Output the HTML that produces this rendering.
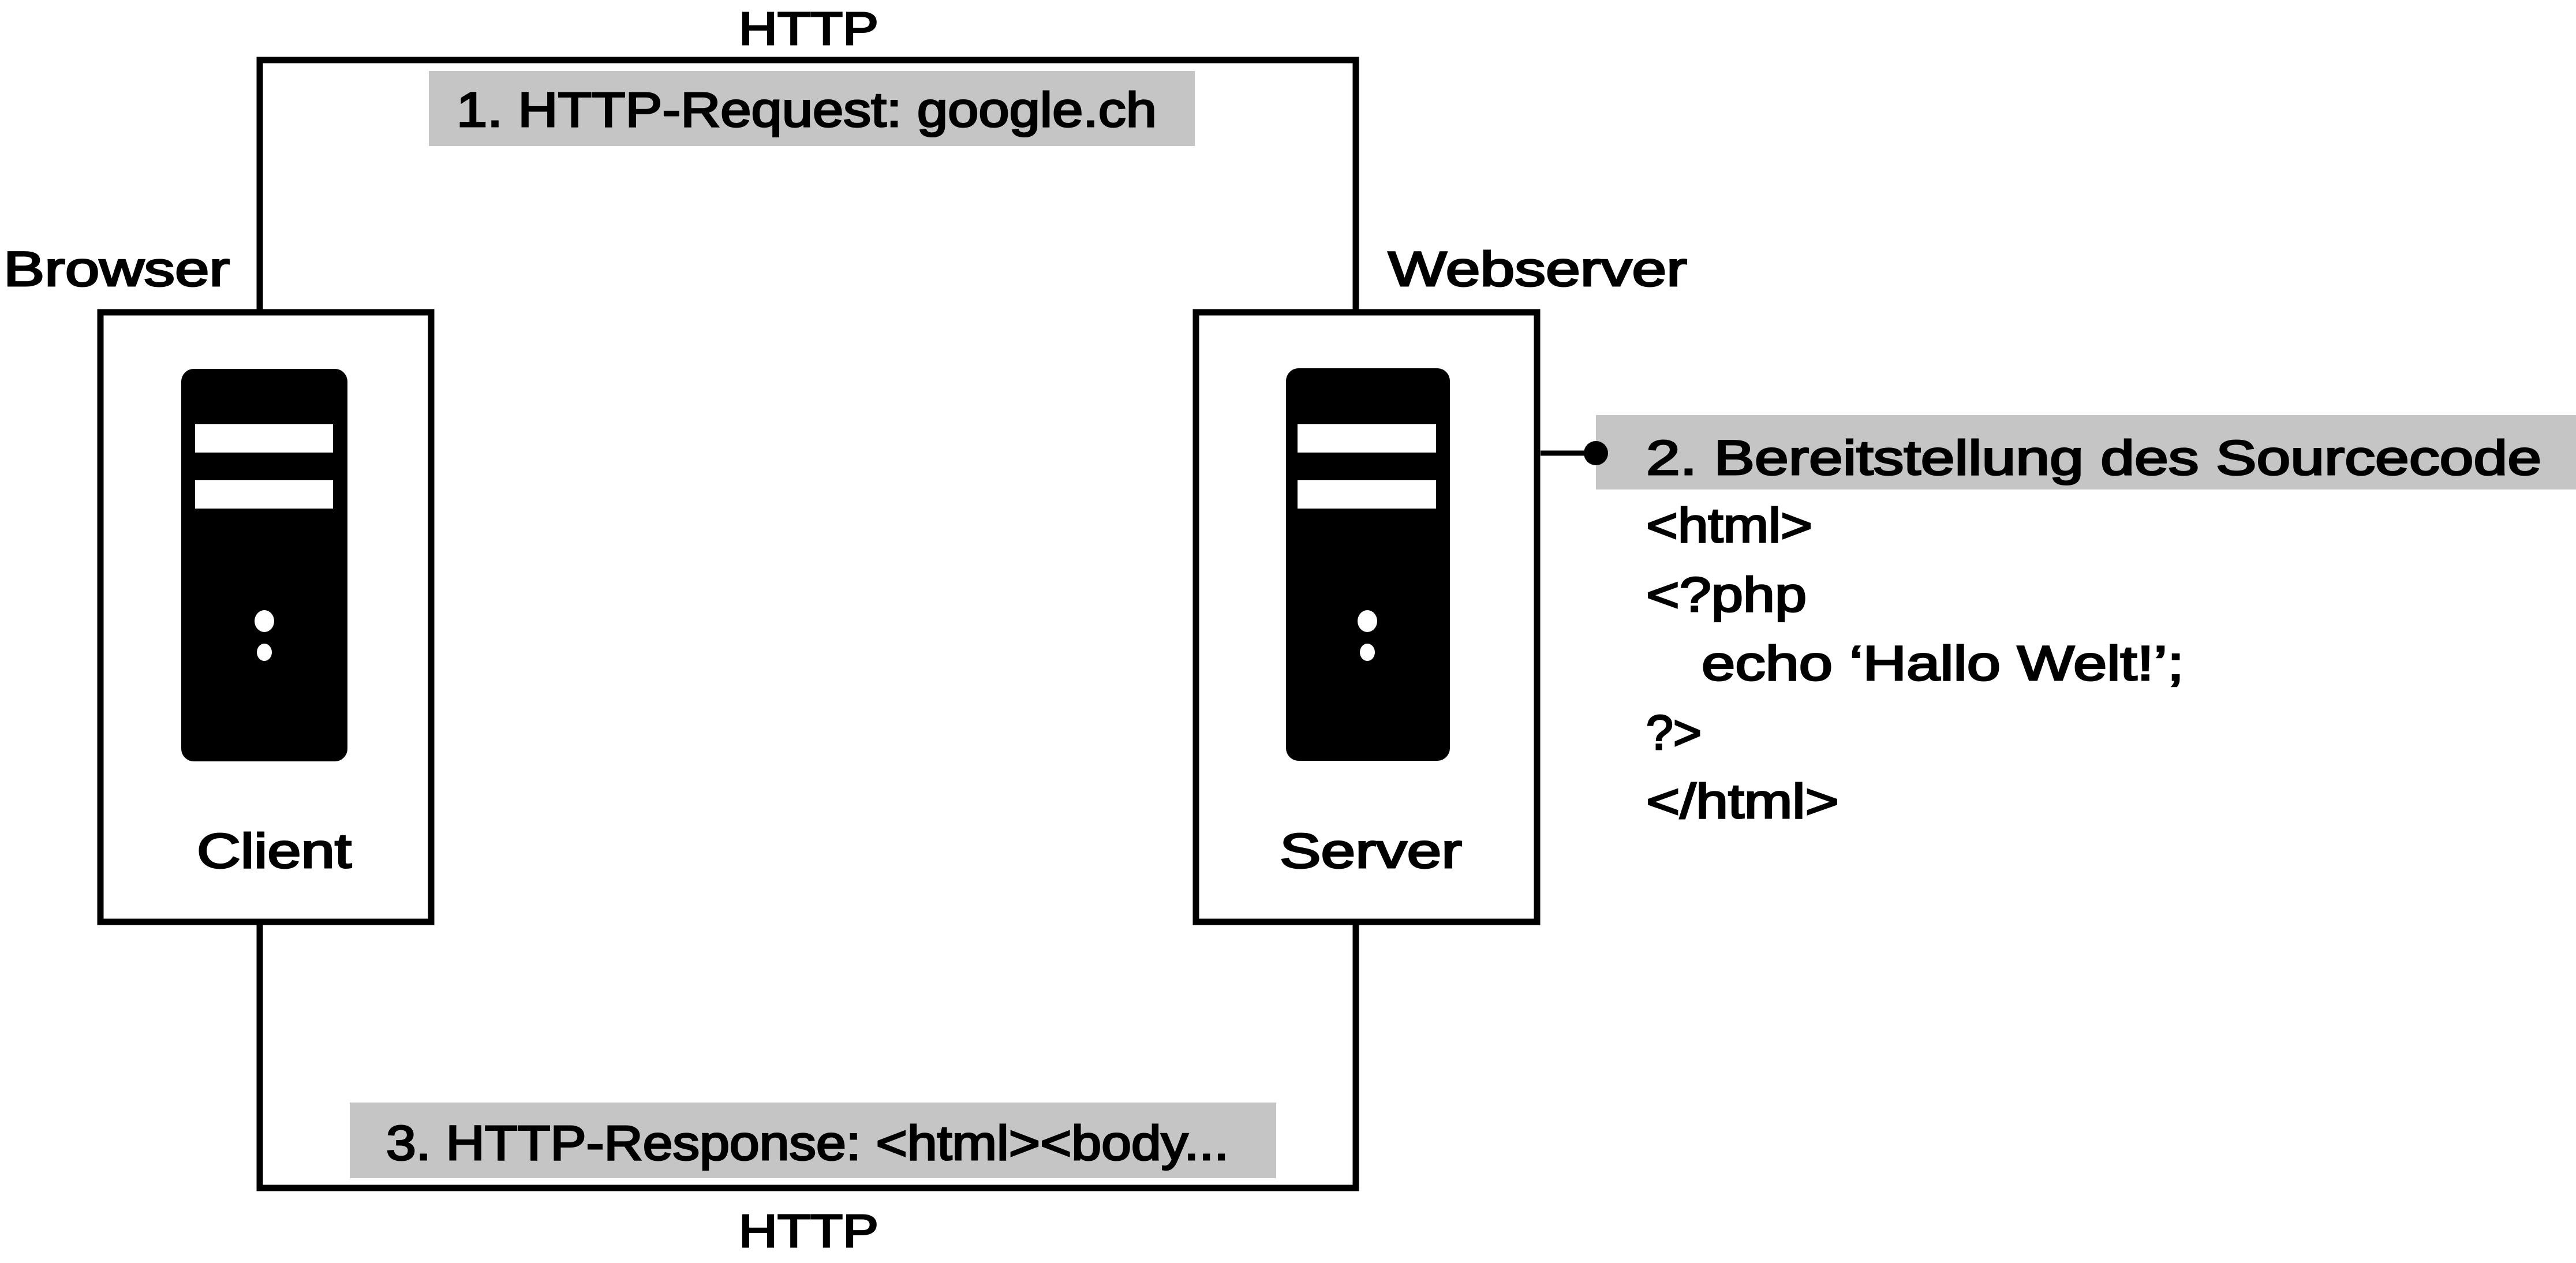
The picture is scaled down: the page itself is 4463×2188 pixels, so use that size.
<!DOCTYPE html>
<html><head><meta charset="utf-8"><style>
html,body{margin:0;padding:0;background:#fff;}
svg{display:block}
text{font-family:"Liberation Sans",sans-serif;font-size:84px;fill:#000;stroke:#000;stroke-width:3px}
</style></head><body>
<svg width="4463" height="2188" viewBox="0 0 4463 2188" xmlns="http://www.w3.org/2000/svg">
<rect x="0" y="0" width="4463" height="2188" fill="#fff" stroke="none"/>
<rect x="743" y="123" width="1327" height="130" fill="#c6c5c5"/>
<rect x="606" y="1910" width="1605" height="131" fill="#c6c5c5"/>
<rect x="2765" y="719" width="1698" height="129" fill="#c6c5c5"/>
<polyline points="450,541 450,104 2349,104 2349,541" fill="none" stroke="#000" stroke-width="11"/>
<polyline points="450,1598 450,2058 2349,2058 2349,1598" fill="none" stroke="#000" stroke-width="11"/>
<line x1="2669" y1="785" x2="2765" y2="785" stroke="#000" stroke-width="9"/>
<circle cx="2765" cy="785" r="21" fill="#000"/>
<rect x="174" y="541" width="573" height="1056" fill="#fff" stroke="#000" stroke-width="11"/>
<rect x="2072" y="541" width="591" height="1056" fill="#fff" stroke="#000" stroke-width="11"/>
<rect x="314" y="639" width="288" height="680" rx="22" fill="#000"/>
<rect x="338" y="735" width="239" height="49" fill="#fff"/>
<rect x="338" y="832" width="239" height="49" fill="#fff"/>
<ellipse cx="458" cy="1076" rx="17" ry="19" fill="#fff"/>
<ellipse cx="458" cy="1130" rx="13" ry="15" fill="#fff"/>
<rect x="2228" y="638" width="284" height="680" rx="22" fill="#000"/>
<rect x="2248" y="735" width="240" height="49" fill="#fff"/>
<rect x="2248" y="832" width="240" height="49" fill="#fff"/>
<ellipse cx="2369" cy="1076" rx="17" ry="19" fill="#fff"/>
<ellipse cx="2369" cy="1130" rx="13" ry="15" fill="#fff"/>
<text x="1280" y="77" textLength="242" lengthAdjust="spacingAndGlyphs" style="font-size:80px">HTTP</text>
<text x="1280" y="2160" textLength="242" lengthAdjust="spacingAndGlyphs" style="font-size:80px">HTTP</text>
<text x="6" y="495" textLength="392" lengthAdjust="spacingAndGlyphs">Browser</text>
<text x="2405" y="495" textLength="518" lengthAdjust="spacingAndGlyphs">Webserver</text>
<text x="341" y="1503" textLength="268" lengthAdjust="spacingAndGlyphs">Client</text>
<text x="2217" y="1503" textLength="316" lengthAdjust="spacingAndGlyphs">Server</text>
<text x="791" y="219" textLength="1213" lengthAdjust="spacingAndGlyphs">1. HTTP-Request: google.ch</text>
<text x="669" y="2009" textLength="1460" lengthAdjust="spacingAndGlyphs">3. HTTP-Response: &lt;html&gt;&lt;body...</text>
<text x="2852" y="822" textLength="1551" lengthAdjust="spacingAndGlyphs">2. Bereitstellung des Sourcecode</text>
<text x="2852" y="939" textLength="288" lengthAdjust="spacingAndGlyphs">&lt;html&gt;</text>
<text x="2852" y="1059" textLength="278" lengthAdjust="spacingAndGlyphs">&lt;?php</text>
<text x="2948" y="1178" textLength="836" lengthAdjust="spacingAndGlyphs">echo ‘Hallo Welt!’;</text>
<text x="2852" y="1298" textLength="96" lengthAdjust="spacingAndGlyphs">?&gt;</text>
<text x="2852" y="1417" textLength="334" lengthAdjust="spacingAndGlyphs">&lt;/html&gt;</text>
</svg>
</body></html>
